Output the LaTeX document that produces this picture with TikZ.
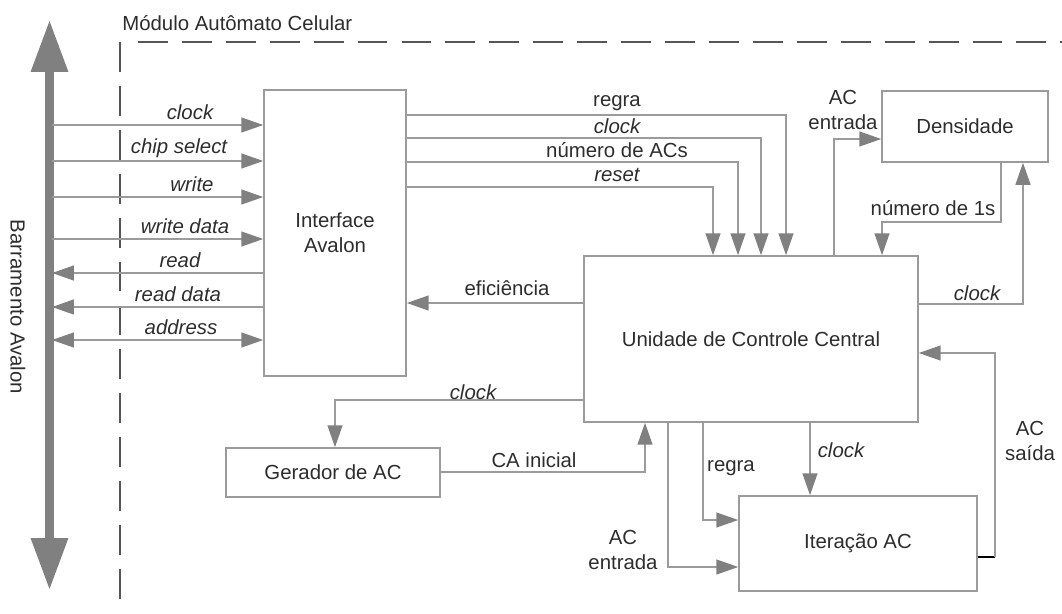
\documentclass[tikz,border=0pt]{standalone}
\usepackage{fontspec}
\setmainfont{Liberation Sans}
\usetikzlibrary{arrows.meta}
\definecolor{linegray}{RGB}{155,155,155}
\definecolor{tipgray}{RGB}{128,128,128}
\definecolor{txtgray}{RGB}{45,45,45}
\definecolor{dashgray}{RGB}{85,85,85}
\newcommand{\fs}{\fontsize{11.6}{14}\selectfont}

\tikzset{
  every node/.style={font=\fs, text=txtgray},
  >={Triangle[length=12.5pt,width=8.5pt,color=tipgray,fill=tipgray]},
  sig/.style={draw=linegray, line width=0.9pt},
  fwd/.style={->}, bwd/.style={<-}, both/.style={<->},
  box/.style={draw=linegray, line width=0.9pt, fill=white, align=center, inner sep=0pt},
  lbl/.style={inner sep=0pt, align=center},
  sigl/.style={inner sep=0pt, font=\fs\itshape},
  bus/.style={draw=tipgray, line width=5pt,
    {Triangle[length=29.5pt,width=20pt]}-{Triangle[length=29.5pt,width=20pt]}},
  border/.style={draw=dashgray, line width=1.1pt, dash pattern=on 17pt off 8pt}
}

\begin{document}
\begin{tikzpicture}[x=0.02cm,y=-0.02cm]
\useasboundingbox (0,0) rectangle (1062,613);

% barramento
\coordinate (busT) at (49.5,20);
\coordinate (busB) at (49.5,590);
\coordinate (busR) at (52,0);
\draw[bus] (busT) -- (busB);
\node[rotate=-90] (buslbl) at (18,307) {Barramento Avalon};

% modulo
\draw[border] (120,42) -- (120,613);
\draw[border] (138,42) -- (1062,42);
\node[anchor=west,inner sep=0pt] (modlbl) at (122,23) {Módulo Autômato Celular};

% blocos
\node[box, minimum width=2.84cm, minimum height=5.72cm] (iface) at (335,233) {Interface\\Avalon};
\node[box, minimum width=6.68cm, minimum height=3.32cm] (ucc) at (751,339) {Unidade de Controle Central};
\node[box, minimum width=3.32cm, minimum height=1.42cm] (dens) at (965,126.5) {Densidade};
\node[box, minimum width=4.28cm, minimum height=0.98cm] (ger) at (333,472.5) {Gerador de AC};
\node[box, minimum width=4.76cm, minimum height=1.9cm] (iter) at (858,543.5) {Iteração AC};

% sinais avalon
\foreach \y/\t/\dir/\lx in {125/clock/fwd/190, 161/chip select/fwd/179, 197/write/fwd/192,
  239/write data/fwd/185, 273/read/bwd/180, 307/read data/bwd/178, 340/address/both/181} {
  \draw[sig,\dir] (busR |- 0,\y) -- (iface.west |- 0,\y);
  \node[sigl] (lbl\y) at (\lx,\y-13) {\t};
}

% interface -> unidade de controle
\foreach \y/\t/\x/\f in {115/regra/786/lbl, 138/clock/761/sigl, 162/número de ACs/738/lbl, 187/reset/713/sigl} {
  \draw[sig,fwd] (iface.east |- 0,\y) -| (ucc.north -| \x,0);
  \node[\f] (top\x) at (617,\y-12) {\t};
}

% densidade
\draw[sig,fwd] (ucc.north -| 834,0) |- (dens.west |- 0,139);
\node[lbl] (acin) at (843,110) {AC\\entrada};
\draw[sig,fwd] (dens.south -| 1001,0) -- (1001,222) -| (ucc.north -| 882,0);
\node[lbl] (n1s) at (933,208) {número de 1s};
\draw[sig,fwd] (ucc.east |- 0,304) -| (dens.south -| 1023,0);
\node[sigl] (clkd) at (977,293) {clock};

% eficiencia
\draw[sig,fwd] (ucc.west |- 0,303) -- (iface.east |- 0,303);
\node[lbl] (efic) at (507,288) {eficiência};

% gerador
\draw[sig,fwd] (ucc.west |- 0,400) -| (ger.north -| 335,0);
\node[sigl] (clkg) at (473,392) {clock};
\draw[sig,fwd] (ger.east |- 0,472) -| (ucc.south -| 645,0);
\node[lbl] (cain) at (534,460) {CA inicial};

% iteracao
\draw[sig,fwd] (ucc.south -| 810,0) -- (iter.north -| 810,0);
\node[sigl] (clki) at (841,450) {clock};
\draw[sig,fwd] (ucc.south -| 703,0) |- (iter.west |- 0,520);
\node[lbl] (regi) at (731,468) {regra};
\draw[sig,fwd] (ucc.south -| 668,0) |- (iter.west |- 0,567);
\node[lbl] (acent) at (623,550) {AC\\entrada};
\coordinate (sai) at (995,557);
\draw[line width=0.9pt] (iter.east |- sai) -- (sai);
\draw[sig,fwd] (sai) |- (ucc.east |- 0,353);
\node[lbl] (acsai) at (1030,441) {AC\\saída};
\end{tikzpicture}
\end{document}
